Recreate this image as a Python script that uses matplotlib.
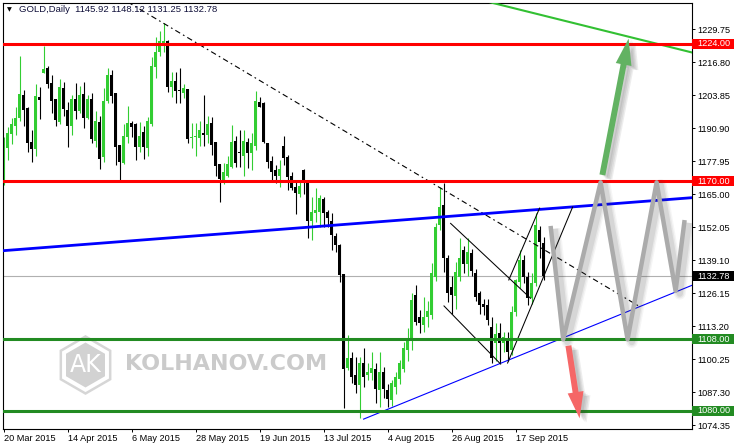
import matplotlib
matplotlib.use('Agg')
import matplotlib.pyplot as plt
import matplotlib.patheffects as pe
import matplotlib.transforms as mtransforms
from matplotlib.patches import Rectangle, RegularPolygon

# --- GOLD daily OHLC, 20 Mar 2015 .. 28 Sep 2015 ---
opens = [1169.6, 1183.2, 1188.6, 1191.7, 1194.7, 1203.9, 1198.7, 1185.4, 1182.5, 1203.0,
         1212.6, 1214.3, 1208.5, 1202.3, 1193.4, 1206.5, 1198.0, 1191.7, 1202.3, 1197.7,
         1204.3, 1195.0, 1202.3, 1185.9, 1193.4, 1179.4, 1201.6, 1211.7, 1204.8, 1184.3,
         1177.1, 1187.5, 1192.8, 1192.5, 1183.6, 1189.2, 1182.9, 1192.4, 1215.0, 1220.9,
         1223.9, 1225.2, 1207.1, 1209.4, 1205.9, 1204.8, 1206.2, 1186.9, 1187.3, 1186.9,
         1188.8, 1188.2, 1192.8, 1185.6, 1176.8, 1170.3, 1172.1, 1175.8, 1186.0, 1181.3,
         1179.9, 1185.6, 1181.3, 1183.9, 1201.3, 1200.6, 1185.2, 1178.1, 1174.4, 1172.1,
         1183.9, 1179.7, 1172.1, 1167.9, 1165.0, 1174.4, 1169.2, 1154.6, 1157.4, 1158.1,
         1162.9, 1158.1, 1154.6, 1148.5, 1145.0, 1133.6, 1096.6, 1100.5, 1094.0, 1090.1,
         1098.6, 1094.0, 1094.7, 1096.2, 1088.1, 1095.3, 1088.1, 1084.2, 1089.4, 1092.5,
         1096.5, 1103.8, 1107.7, 1125.4, 1116.9, 1113.6, 1116.9, 1117.5, 1132.6, 1152.9,
         1160.7, 1139.8, 1128.5, 1125.0, 1132.6, 1143.0, 1137.5, 1142.0, 1133.9, 1126.0,
         1122.0, 1121.5, 1113.0, 1106.5, 1110.4, 1106.5, 1108.0, 1103.8, 1118.9, 1130.6,
         1139.1, 1132.6, 1124.1, 1130.0, 1150.9, 1145.92]
highs = [1187.5, 1191.4, 1194.7, 1199.0, 1219.2, 1205.8, 1199.0, 1190.1, 1208.2, 1206.9,
         1223.1, 1215.3, 1211.7, 1202.3, 1210.0, 1209.1, 1201.2, 1203.9, 1208.5, 1207.4,
         1209.1, 1203.9, 1204.8, 1197.7, 1195.6, 1206.5, 1214.3, 1213.7, 1204.8, 1184.3,
         1192.5, 1199.6, 1193.5, 1192.8, 1193.4, 1191.7, 1195.4, 1218.7, 1226.5, 1229.0,
         1232.0, 1225.5, 1213.0, 1213.0, 1214.3, 1208.2, 1206.2, 1192.8, 1192.8, 1193.7,
         1203.9, 1195.6, 1195.1, 1185.6, 1176.8, 1177.1, 1180.0, 1192.1, 1187.8, 1190.1,
         1190.1, 1186.9, 1188.8, 1205.6, 1203.2, 1201.3, 1185.2, 1180.0, 1176.5, 1178.4,
         1187.8, 1180.3, 1173.5, 1170.5, 1170.0, 1174.8, 1170.0, 1164.0, 1167.3, 1164.6,
         1164.0, 1158.8, 1157.4, 1149.6, 1145.4, 1133.6, 1109.7, 1103.2, 1101.2, 1101.2,
         1104.5, 1098.6, 1103.2, 1098.6, 1103.2, 1097.0, 1090.5, 1092.0, 1095.0, 1100.0,
         1107.0, 1112.5, 1126.0, 1129.3, 1119.5, 1124.7, 1123.0, 1137.8, 1153.5, 1167.9,
         1169.2, 1141.0, 1133.0, 1138.5, 1147.6, 1144.5, 1147.8, 1143.5, 1135.5, 1127.0,
         1124.0, 1124.0, 1116.9, 1114.5, 1114.5, 1111.0, 1111.0, 1121.0, 1131.5, 1143.0,
         1141.0, 1134.5, 1134.0, 1157.4, 1152.5, 1148.12]
lows = [1168.6, 1178.4, 1184.6, 1188.2, 1193.8, 1191.7, 1181.6, 1177.7, 1180.1, 1194.3,
        1212.4, 1206.7, 1196.9, 1191.7, 1192.5, 1195.6, 1183.4, 1188.2, 1194.3, 1196.9,
        1190.8, 1194.3, 1185.2, 1183.6, 1174.7, 1177.7, 1200.6, 1200.9, 1176.4, 1169.9,
        1176.8, 1185.2, 1187.5, 1178.4, 1181.6, 1178.6, 1179.9, 1191.7, 1210.4, 1219.0,
        1220.9, 1205.2, 1203.2, 1200.9, 1200.9, 1202.6, 1184.9, 1182.9, 1179.9, 1183.9,
        1183.9, 1184.9, 1180.3, 1172.2, 1162.0, 1168.9, 1171.8, 1175.1, 1175.8, 1175.8,
        1172.2, 1175.1, 1174.4, 1182.3, 1199.0, 1185.2, 1175.1, 1170.3, 1169.5, 1167.9,
        1176.5, 1166.6, 1166.5, 1157.0, 1164.0, 1165.0, 1147.6, 1147.0, 1154.2, 1152.2,
        1152.2, 1152.2, 1143.1, 1142.4, 1130.6, 1080.9, 1096.0, 1090.7, 1086.8, 1077.0,
        1089.4, 1092.1, 1092.1, 1082.9, 1081.6, 1085.0, 1081.5, 1082.0, 1086.5, 1090.5,
        1095.0, 1099.5, 1104.0, 1113.5, 1110.5, 1111.0, 1113.0, 1116.0, 1131.0, 1151.0,
        1134.5, 1122.8, 1118.0, 1120.0, 1131.0, 1134.0, 1133.0, 1133.0, 1123.0, 1118.0,
        1117.5, 1113.5, 1098.6, 1099.5, 1098.6, 1103.0, 1099.6, 1102.0, 1117.0, 1128.0,
        1130.0, 1121.5, 1122.0, 1129.0, 1140.0, 1131.25]
closes = [1182.3, 1188.8, 1192.5, 1195.0, 1204.3, 1198.0, 1185.2, 1182.8, 1203.5, 1201.9,
          1214.0, 1208.2, 1201.6, 1194.1, 1206.9, 1198.3, 1191.7, 1202.3, 1197.7, 1203.9,
          1195.0, 1202.3, 1186.5, 1193.7, 1178.6, 1201.6, 1211.7, 1203.5, 1183.6, 1177.7,
          1187.8, 1192.8, 1191.4, 1183.6, 1187.8, 1183.6, 1193.7, 1215.2, 1220.7, 1225.2,
          1225.2, 1207.1, 1209.4, 1205.6, 1205.6, 1206.5, 1186.5, 1187.5, 1187.9, 1190.1,
          1188.2, 1192.5, 1184.3, 1176.1, 1170.8, 1173.5, 1176.8, 1185.6, 1177.3, 1181.0,
          1186.0, 1181.3, 1185.2, 1201.6, 1199.3, 1185.6, 1177.7, 1173.5, 1172.1, 1174.7,
          1179.3, 1171.8, 1167.3, 1165.6, 1168.2, 1169.2, 1154.6, 1158.1, 1158.7, 1163.3,
          1157.4, 1155.5, 1148.9, 1145.0, 1133.3, 1096.2, 1100.5, 1093.4, 1090.1, 1098.6,
          1093.4, 1095.3, 1096.6, 1088.4, 1095.3, 1088.5, 1084.5, 1090.7, 1093.3, 1098.6,
          1104.5, 1107.7, 1123.4, 1114.9, 1114.3, 1116.9, 1119.0, 1133.9, 1152.2, 1160.1,
          1139.8, 1126.0, 1125.5, 1134.5, 1139.8, 1137.5, 1142.4, 1134.9, 1124.7, 1121.5,
          1120.5, 1115.5, 1100.5, 1110.2, 1106.5, 1108.8, 1103.2, 1118.9, 1131.3, 1139.1,
          1132.6, 1124.1, 1130.0, 1152.9, 1146.3, 1132.78]

date_labels = ['20 Mar 2015', '14 Apr 2015', '6 May 2015', '28 May 2015', '19 Jun 2015',
               '13 Jul 2015', '4 Aug 2015', '26 Aug 2015', '17 Sep 2015']
date_bars = [0, 16, 32, 48, 64, 80, 96, 112, 128]
price_ticks = [1229.75, 1216.80, 1203.85, 1190.90, 1177.95, 1165.00, 1152.05,
               1139.10, 1126.15, 1113.20, 1100.25, 1087.30, 1074.35]

resistance = [1224.0, 1170.0]
support = [1108.0, 1080.0]
last_price = 1132.78

# drawn objects: (bar, price) anchor points
dashdot_trend = [(31.0, 1240.4), (158.75, 1121.1)]
blue_thick = [(0.0, 1142.8), (172.25, 1163.6)]
blue_thin = [(90.0, 1076.7), (172.25, 1129.3)]
green_top = [(121.75, 1240.2), (172.25, 1220.5)]
channel_upper = [(111.75, 1153.5), (131.75, 1124.1)]
channel_lower = [(110.1, 1121.1), (124.25, 1098.3)]
wedge_upper = [(126.3, 1131.3), (134.0, 1159.5)]
wedge_lower = [(126.0, 1098.7), (142.25, 1159.9)]
zigzag = [(136.75, 1152.5), (139.9, 1108.0), (149.25, 1169.6), (156.0, 1108.0),
          (163.25, 1169.6), (168.0, 1127.0), (170.25, 1154.8)]
arrow_up = [(149.7, 1172.5), (156.25, 1226.0)]
arrow_down = [(141.2, 1105.5), (144.0, 1077.0)]

FONT = 'Liberation Sans'
FS = 6.6

fig = plt.figure(figsize=(7.34, 4.47), dpi=100)
ax = fig.add_axes([3 / 734, 18 / 447, 689 / 734, 426 / 447])
ax.set_xlim(-0.15, 172.1)
ax.set_ylim(1072.82, 1239.97)

# candles
n = len(opens)
for i in range(n):
    o, h, l, c = opens[i], highs[i], lows[i], closes[i]
    col = '#32cd32' if c > o else 'black'
    ax.vlines(i, l, h, color=col, lw=0.8, zorder=2)
    ax.bar(i, max(abs(c - o), 0.35), bottom=min(o, c), width=0.74, color=col,
           linewidth=0, zorder=2)

# horizontal levels
for lv in resistance:
    ax.axhline(lv, color='#ff0000', lw=2.2, zorder=4)
for lv in support:
    ax.axhline(lv, color='#228b22', lw=2.2, zorder=4)
ax.axhline(last_price, color='#b0b0b0', lw=0.8, zorder=1.5)


def seg(pts, **kw):
    xs = [p[0] for p in pts]
    ys = [p[1] for p in pts]
    return ax.plot(xs, ys, **kw)


seg(dashdot_trend, color='black', lw=0.8, dashes=(5, 3, 1.5, 3), zorder=3)
seg(blue_thick, color='#0000ff', lw=2.0, zorder=3)
seg(blue_thin, color='#0000ff', lw=0.8, zorder=3)
seg(green_top, color='#32c032', lw=1.5, zorder=3)
for line in (channel_upper, channel_lower, wedge_upper, wedge_lower):
    seg(line, color='black', lw=0.75, zorder=3)

# soft shadows (several faint layers instead of a blur)
line_shadow = [pe.SimpleLineShadow(offset=(3, -2), shadow_color='#404040', alpha=a, linewidth=w)
               for a, w in ((0.05, 8.5), (0.07, 6.5), (0.10, 4.5))] + [pe.Normal()]
patch_shadow = [pe.SimplePatchShadow(offset=o, shadow_rgbFace='#404040', alpha=0.09)
                for o in ((2, -1), (3, -2), (4, -3), (5, -3))] + [pe.Normal()]

# forecast zigzag
seg(zigzag, color='#ababab', lw=3.2, zorder=5, solid_joinstyle='round',
    solid_capstyle='butt', path_effects=line_shadow)

ax.annotate('', xy=arrow_up[1], xytext=arrow_up[0], zorder=6,
            arrowprops=dict(width=4.3, headwidth=11.5, headlength=19, color='#62b262',
                            linewidth=0, path_effects=patch_shadow))
ax.annotate('', xy=arrow_down[1], xytext=arrow_down[0], zorder=6,
            arrowprops=dict(width=4.3, headwidth=11.5, headlength=19, color='#f56767',
                            linewidth=0, path_effects=patch_shadow))

# watermark
hexo = RegularPolygon((0.855, 0.82), 6, radius=0.285, orientation=0,
                      transform=fig.dpi_scale_trans, fc='none', ec='#d6d6d6', lw=1.8, zorder=0.5)
ax.add_artist(hexo)
hexi = RegularPolygon((0.855, 0.82), 6, radius=0.225, orientation=0,
                      transform=fig.dpi_scale_trans, fc='#d2d2d2', ec='none', zorder=0.6)
ax.add_artist(hexi)
ax.text(0.855, 0.815, 'AK', transform=fig.dpi_scale_trans, ha='center', va='center',
        fontsize=17, color='white', family='DejaVu Sans', zorder=0.7)
ax.text(1.25, 0.825, 'KOLHANOV.COM', transform=fig.dpi_scale_trans, ha='left', va='center',
        fontsize=16, fontweight='bold', color='#cbcbcb', family='DejaVu Sans', zorder=0.7)

# axes styling
for s in ax.spines.values():
    s.set_color('black')
    s.set_linewidth(0.8)
ax.yaxis.tick_right()
ax.set_yticks(price_ticks)
ax.set_yticklabels(['%.2f' % v for v in price_ticks], fontsize=FS, family=FONT)
ax.tick_params(axis='y', direction='out', length=2.2, width=0.7, pad=2)
ax.set_xticks(date_bars)
ax.set_xticklabels([])
ax.tick_params(axis='x', direction='out', length=2.5, width=0.7)

xt = mtransforms.blended_transform_factory(ax.transData, ax.transAxes)
for b, lab in zip(date_bars, date_labels):
    ax.text(b + 0.1, -0.022, lab, transform=xt, ha='left', va='center', fontsize=FS,
            family=FONT, color='black')

yt = mtransforms.blended_transform_factory(ax.transAxes, ax.transData)
box_h = 10 / 2.5486
for val, col in ((1224.0, '#ff0000'), (1170.0, '#ff0000'), (last_price, 'black'),
                 (1108.0, '#228b22'), (1080.0, '#228b22')):
    ax.add_patch(Rectangle((1.0, val - box_h / 2), 0.062, box_h, transform=yt,
                           fc=col, ec='none', clip_on=False, zorder=10))
    ax.text(1.0 + 5 / 689, val, '%.2f' % val, transform=yt, ha='left', va='center',
            fontsize=FS, family=FONT, color='white', zorder=11, clip_on=False)

# header
ax.text(0.006, 0.984, '\u25bc', transform=ax.transAxes, ha='left', va='center',
        fontsize=4.5, family='DejaVu Sans', color='black')
ax.text(0.023, 0.984, 'GOLD,Daily  1145.92 1148.12 1131.25 1132.78', transform=ax.transAxes,
        ha='left', va='center', fontsize=FS + 0.2, family=FONT, color='#10103a')

fig.savefig('out.png', dpi=100)
